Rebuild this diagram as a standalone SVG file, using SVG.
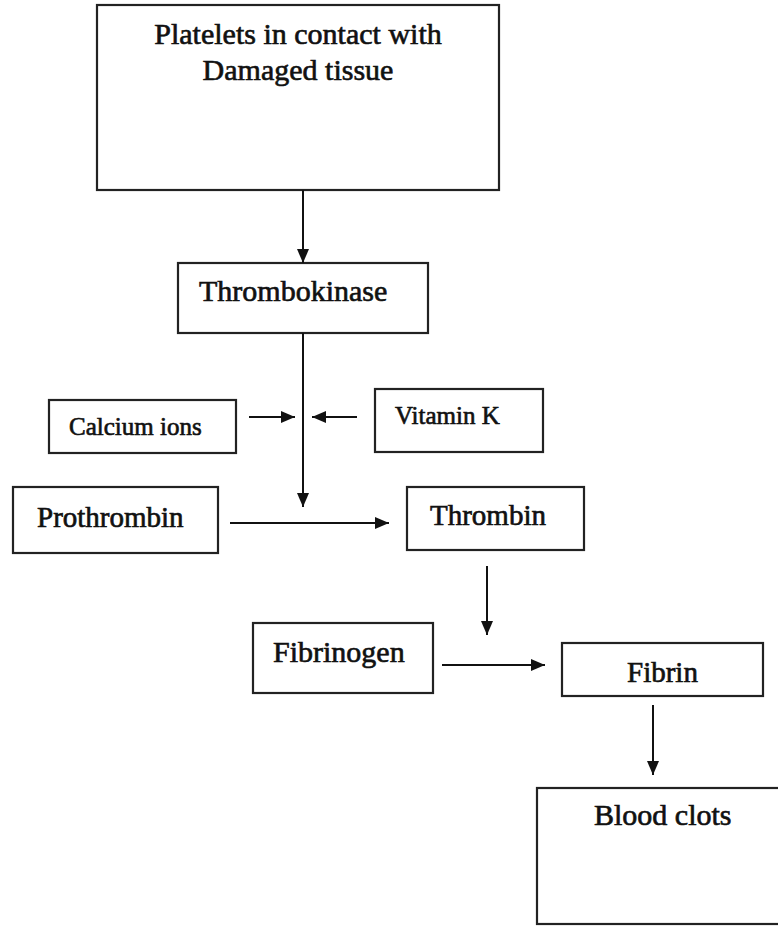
<svg xmlns="http://www.w3.org/2000/svg" width="778" height="926" viewBox="0 0 778 926">
  <defs>
    <marker id="arrow" viewBox="0 0 14 12" refX="14" refY="6" markerWidth="14" markerHeight="12" markerUnits="userSpaceOnUse" orient="auto">
      <path d="M0,0 L14,6 L0,12 Z" fill="#111"/>
    </marker>
    <style>
      .box { fill: #fff; stroke: #222; stroke-width: 2.2; }
      .lbl { font-family: "Liberation Serif", "Times New Roman", serif; fill: #111; stroke: #111; stroke-width: 0.65; }
      .big { font-size: 30px; }
      .mid { font-size: 29px; }
      .sm { font-size: 25px; }
      .link { fill: none; stroke: #111; stroke-width: 2; marker-end: url(#arrow); }
    </style>
  </defs>
  <rect width="778" height="926" fill="#fff"/>

  <g id="platelets">
    <rect class="box" x="97" y="5" width="402" height="185"/>
    <text class="lbl big" x="298" y="44" text-anchor="middle">Platelets in contact with</text>
    <text class="lbl big" x="298" y="80" text-anchor="middle">Damaged tissue</text>
  </g>

  <g id="thrombokinase">
    <rect class="box" x="178" y="263" width="250" height="70"/>
    <text class="lbl big" x="199" y="301">Thrombokinase</text>
  </g>

  <g id="calcium-ions">
    <rect class="box" x="49" y="400" width="187" height="53"/>
    <text class="lbl sm" x="69" y="435">Calcium ions</text>
  </g>

  <g id="vitamin-k">
    <rect class="box" x="375" y="389" width="168" height="63"/>
    <text class="lbl sm" x="395" y="424">Vitamin K</text>
  </g>

  <g id="prothrombin">
    <rect class="box" x="13" y="487" width="205" height="66"/>
    <text class="lbl mid" x="37" y="527">Prothrombin</text>
  </g>

  <g id="thrombin">
    <rect class="box" x="407" y="487" width="177" height="63"/>
    <text class="lbl mid" x="430" y="525">Thrombin</text>
  </g>

  <g id="fibrinogen">
    <rect class="box" x="253" y="623" width="180" height="70"/>
    <text class="lbl big" x="273" y="662">Fibrinogen</text>
  </g>

  <g id="fibrin">
    <rect class="box" x="562" y="643" width="201" height="53"/>
    <text class="lbl mid" x="627" y="682">Fibrin</text>
  </g>

  <g id="blood-clots">
    <rect class="box" x="537" y="788" width="250" height="136"/>
    <text class="lbl big" x="594" y="825">Blood clots</text>
  </g>

  <g id="connectors">
    <line class="link" x1="303" y1="190" x2="303" y2="263"/>
    <line class="link" x1="303" y1="333" x2="303" y2="507"/>
    <line class="link" x1="249" y1="417" x2="295" y2="417"/>
    <line class="link" x1="357" y1="417" x2="312" y2="417"/>
    <line class="link" x1="230" y1="523" x2="389" y2="523"/>
    <line class="link" x1="487" y1="566" x2="487" y2="635"/>
    <line class="link" x1="442" y1="665" x2="545" y2="665"/>
    <line class="link" x1="653" y1="705" x2="653" y2="775"/>
  </g>
</svg>
